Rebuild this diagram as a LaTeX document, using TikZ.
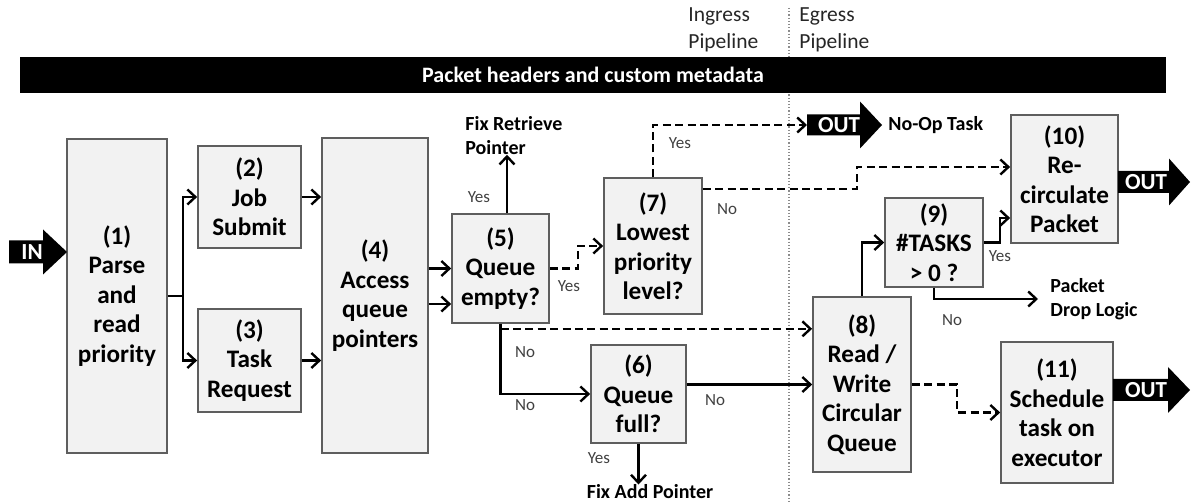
\documentclass[tikz,border=0pt]{standalone}
\usepackage{fontspec}
\setmainfont{Carlito}
\usetikzlibrary{arrows.meta,calc}
\definecolor{boxfill}{HTML}{F2F2F2}
\definecolor{boxline}{HTML}{5E5E5E}
\definecolor{lbl}{HTML}{404040}
\definecolor{dotc}{HTML}{8C8C8C}
% #1 name, #2 tail x, #3 tip x, #4 centre y, #5 body half height, #6 head half height, #7 head length, #8 text x, #9 text
\newcommand\fatarrow[9]{%
  \fill[black] (#2,#4-#5) -- (#3-#7,#4-#5) -- (#3-#7,#4-#6) -- (#3,#4)
     -- (#3-#7,#4+#6) -- (#3-#7,#4+#5) -- (#2,#4+#5) -- cycle;
  \coordinate (#1t) at (#2,#4);
  \coordinate (#1p) at (#3,#4);
  \node[fattext] (#1) at (#8,#4) {#9};}
\begin{document}
\begin{tikzpicture}[x=0.5pt,y=-0.5pt,
  box/.style={draw=boxline, fill=boxfill, line width=0.85pt, inner sep=0pt, align=center,
    font=\bfseries\fontsize{12.6}{14.75}\selectfont},
  arr/.style={line width=1.2pt, -{Straight Barb[length=4pt,width=7.5pt]}},
  darr/.style={arr, dash pattern=on 4pt off 2.2pt},
  plain/.style={line width=1.2pt},
  lab/.style={font=\fontsize{8.5}{10}\selectfont, text=lbl, inner sep=0pt},
  note/.style={font=\bfseries\fontsize{10}{11.75}\selectfont, inner sep=0pt, align=left},
  fattext/.style={text=white, font=\bfseries\fontsize{11.5}{13}\selectfont, inner sep=0pt},
  pipe/.style={anchor=west, align=left, font=\fontsize{10.75}{13.5}\selectfont, inner sep=0pt, text=black!85}
]
\useasboundingbox (0,0) rectangle (1191,502);

% ingress / egress separator
\coordinate (sepT) at (789,8);
\coordinate (sepB) at (789,502);
\draw[dotc, line width=0.6pt, dash pattern=on 0.6pt off 1pt] (sepT) -- (sepB);
\node[pipe] (ing) at (688,29.5) {Ingress\\Pipeline};
\node[pipe] (egr) at (799,29.5) {Egress\\Pipeline};

% header bar
\node[fill=black, text=white, font=\bfseries\fontsize{11}{13}\selectfont,
  minimum width=573pt, minimum height=18pt, inner sep=0pt] (hdr) at (593,75)
  {Packet headers and custom metadata};

% boxes
\node[box, minimum width=50pt, minimum height=157pt] (n1) at (117,296) {(1)\\Parse\\and\\read\\priority};
\node[box, minimum width=51.5pt, minimum height=51pt] (n2) at (249.5,197) {(2)\\Job\\Submit};
\node[box, minimum width=51.5pt, minimum height=51.5pt] (n3) at (249.5,360.5) {(3)\\Task\\Request};
\node[box, minimum width=53pt, minimum height=157.5pt] (n4) at (375,295.5) {(4)\\Access\\queue\\pointers};
\node[box, minimum width=48.5pt, minimum height=54.5pt] (n5) at (500.5,268.5) {(5)\\Queue\\empty?};
\node[box, minimum width=47.5pt, minimum height=49pt] (n6) at (638.5,394) {(6)\\Queue\\full?};
\node[box, minimum width=49pt, minimum height=68pt] (n7) at (653,246) {(7)\\Lowest\\priority\\level?};
\node[box, minimum width=49pt, minimum height=87.5pt] (n8) at (862,384.5) {(8)\\Read /\\Write\\Circular\\Queue};
\node[box, minimum width=49pt, minimum height=44.5pt] (n9) at (934,242.5) {(9)\\\#TASKS\\> 0 ?};
\node[box, minimum width=53.5pt, minimum height=64pt] (n10) at (1064.5,179) {(10)\\Re-\\circulate\\Packet};
\node[box, minimum width=56pt, minimum height=70.5pt] (n11) at (1057,412.5) {(11)\\Schedule\\task on\\executor};

% fat IN / OUT arrows
\fatarrow{in}{9}{67}{252}{11.5}{22.5}{24}{32}{IN}
\fatarrow{out1}{807}{882}{125}{10.5}{23.5}{22}{839}{OUT}
\fatarrow{out2}{1118}{1190}{182}{11}{23.5}{21}{1146}{OUT}
\fatarrow{out3}{1113}{1190}{390}{11}{23}{22}{1146}{OUT}

% text targets
\node[note, anchor=west] (fixr) at (465,135.5) {Fix Retrieve\\Pointer};
\node[note] (fixa) at (650,492) {Fix Add Pointer};
\node[note, anchor=west] (noop) at (888,125) {No-Op Task};
\node[note, anchor=west] (pdl) at (1050,299) {Packet\\Drop Logic};

% (1) -> (2),(3)
\coordinate (sp) at (183,296);
\draw[plain] (n1.east) -- (sp);
\draw[arr] (sp) |- (n2.west);
\draw[arr] (sp) |- (n3.west);
% (2),(3) -> (4)
\draw[arr] (n2.east) -- (n2.east -| n4.west);
\draw[arr] (n3.east) -- (n3.east -| n4.west);
% (4) -> (5)
\draw[arr] (n4.east |- n5.west) -- (n5.west);
\coordinate (a4) at ($(n4.east |- n5.west)+(0,35.5)$);
\draw[arr] (a4) -- (a4 -| n5.west);
% (5) yes -> fix retrieve
\coordinate (a5) at ($(n5.north)+(6.5,0)$);
\draw[arr] (a5) -- (a5 |- fixr.south);
% (5) yes -> (7)
\draw[darr] (n5.east) -- ++(28,0) |- (n7.west);
% (5) no -> (6)
\draw[arr] (n5.south) |- (n6.west);
% (5) no -> (8)
\coordinate (d5) at ($(n5.south)+(0,5)$);
\draw[darr] (d5) -- (d5 -| n8.west);
% (6) yes -> fix add
\draw[arr] (n6.south) -- (n6.south |- fixa.north);
% (6) no -> (8)
\draw[arr] (n6.east |- n8.west) -- (n8.west);
% (7) yes -> OUT
\draw[darr] (n7.north) |- (out1t);
% (7) no -> (10)
\coordinate (e7) at ($(n7.east)+(0,-57)$);
\coordinate (w10) at ($(n10.west)+(0,-12)$);
\draw[darr] (e7) -- ++(154,0) |- (w10);
% (8) -> (9)
\draw[arr] (n8.north) |- (n9.west);
% (9) yes -> (10)
\coordinate (w10b) at ($(n10.west)+(0,39)$);
\draw[arr] (n9.east) -- ++(16,0) |- (w10b);
% (9) no -> packet drop
\coordinate (pdlin) at ($(pdl.west)+(-12,0)$);
\draw[arr] (n9.south) |- (pdlin);
% (8) -> (11)
\draw[darr] (n8.east) -- ++(45,0) |- (n11.west);

% labels
\node[lab] (l1) at (479,197) {Yes};
\node[lab] (l2) at (569,286) {Yes};
\node[lab] (l3) at (525,352) {No};
\node[lab] (l4) at (525,405) {No};
\node[lab] (l5) at (599,458) {Yes};
\node[lab] (l6) at (715,400) {No};
\node[lab] (l7) at (680,143) {Yes};
\node[lab] (l8) at (727,209) {No};
\node[lab] (l9) at (1000,256) {Yes};
\node[lab] (l10) at (952,320) {No};
\end{tikzpicture}
\end{document}
